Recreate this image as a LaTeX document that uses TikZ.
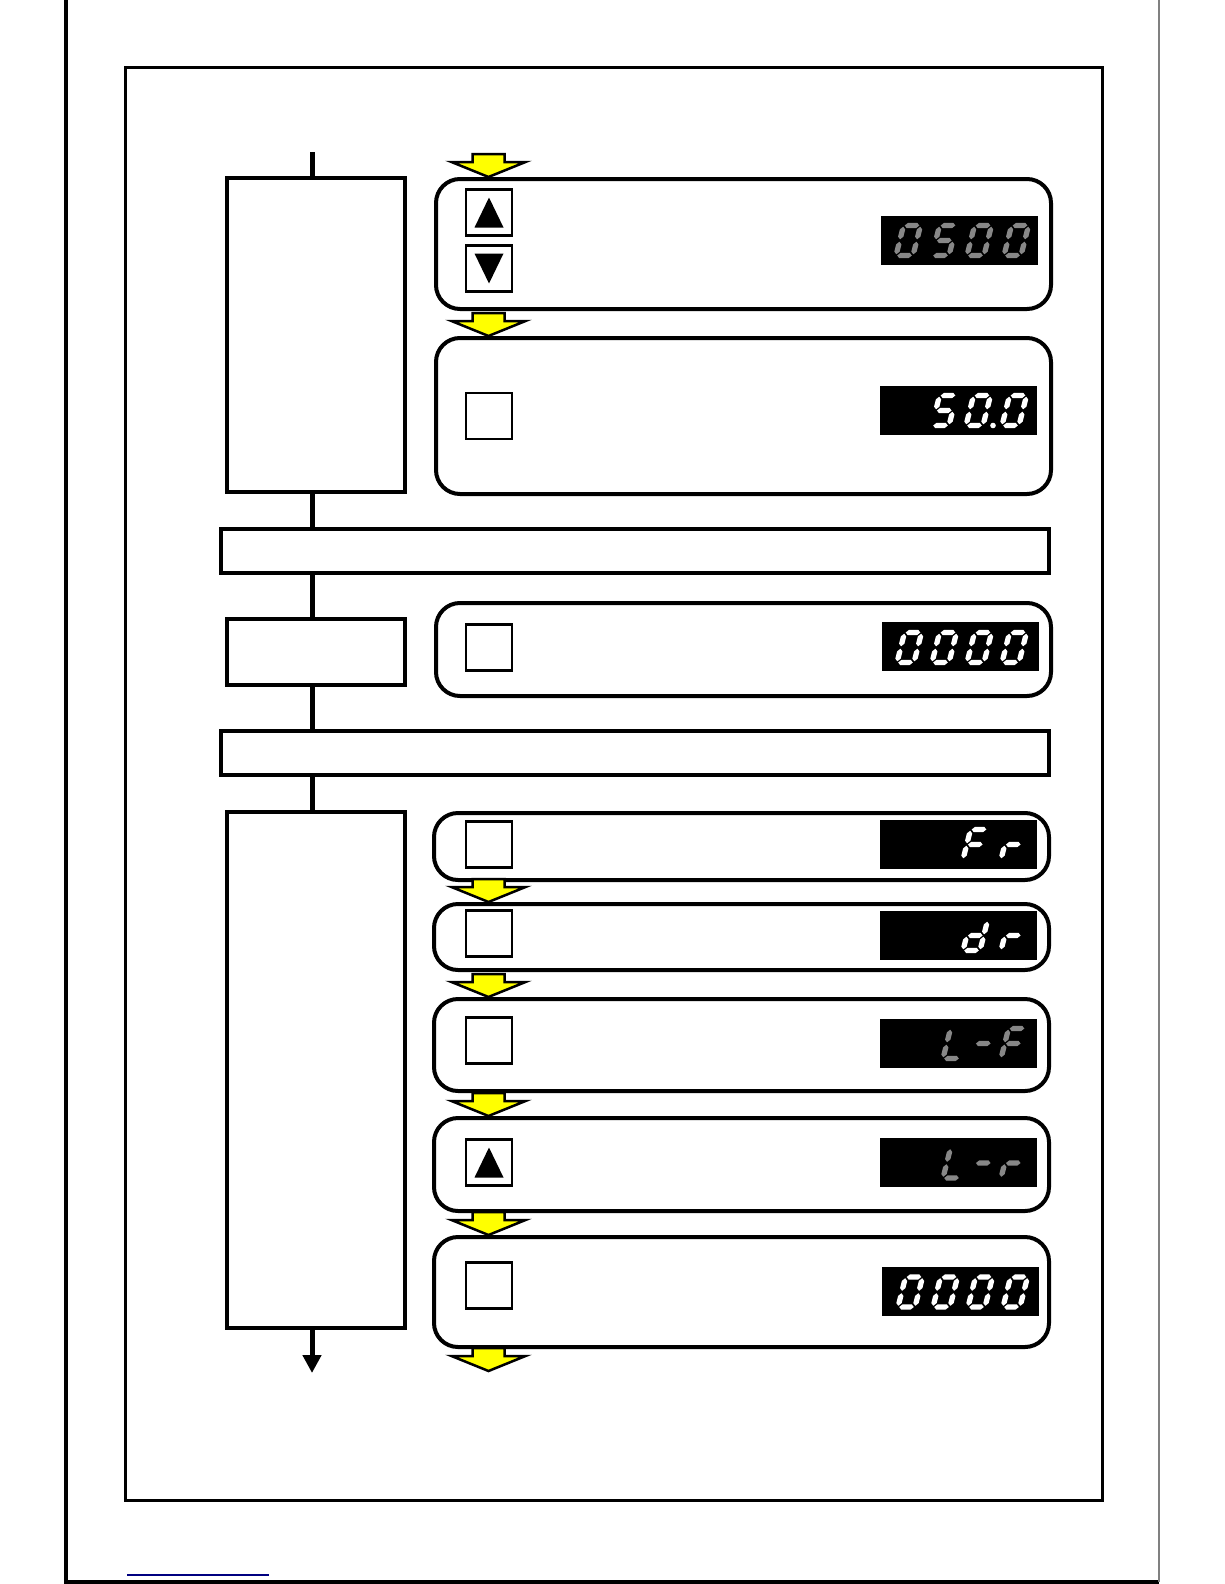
\documentclass[tikz,border=0pt]{standalone}
\usetikzlibrary{arrows.meta}
\definecolor{seggrey}{RGB}{135,135,135}
\definecolor{linkblue}{RGB}{0,0,128}
\definecolor{arrowyellow}{RGB}{255,255,0}
\def\segt{2.7}
% horizontal segment: x1, x2, y
\newcommand\hseg[3]{\fill (#1,#3) -- ++(\segt,-\segt) -- (#2-\segt,#3-\segt) -- (#2,#3) -- (#2-\segt,#3+\segt) -- (#1+\segt,#3+\segt) -- cycle;}
% vertical segment: x, y1 (top), y2 (bottom)
\newcommand\vseg[3]{\fill (#1,#2) -- ++(\segt,\segt) -- (#1+\segt,#3-\segt) -- (#1,#3) -- (#1-\segt,#3-\segt) -- (#1-\segt,#2+\segt) -- cycle;}
\newcommand\sevseg[4]{\begin{scope}[shift={(#1,#2)},xslant=0.25,fill=#3]\segparse#4\relax\end{scope}}
\def\segparse#1#2#3#4#5#6#7\relax{%
\ifnum#1=1 \hseg{1.2}{15.8}{-30}\fi
\ifnum#2=1 \vseg{17}{-28.8}{-16.2}\fi
\ifnum#3=1 \vseg{17}{-13.8}{-1.2}\fi
\ifnum#4=1 \hseg{1.2}{15.8}{0}\fi
\ifnum#5=1 \vseg{0}{-13.8}{-1.2}\fi
\ifnum#6=1 \vseg{0}{-28.8}{-16.2}\fi
\ifnum#7=1 \hseg{1.2}{15.8}{-15}\fi}
\newcommand\segdp[3]{\fill[#3] (#1,#2) circle (2.8);}
\newcommand\yarrow[1]{\draw[yarr] #1 -- ++(-37,-15) -- ++(21,0) -- ++(0,-8) -- ++(32,0) -- ++(0,8) -- ++(21,0) -- cycle;}
\newcommand\upbtn[1]{\fill (#1.center) ++(0,-15) -- ++(14.5,30) -- ++(-29,0) -- cycle;}
\newcommand\downbtn[1]{\fill (#1.center) ++(0,15) -- ++(14.5,-30) -- ++(-29,0) -- cycle;}
\begin{document}
\begin{tikzpicture}[x=1pt,y=-1pt,
  lbox/.style={draw,line width=3.5pt,fill=white,rectangle,inner sep=0pt,anchor=north west,minimum width=178pt},
  wbar/.style={draw,line width=3.5pt,fill=white,rectangle,inner sep=0pt,anchor=north west,minimum width=828pt,minimum height=44pt},
  rbox/.style={draw,line width=4pt,fill=white,rectangle,rounded corners=24pt,inner sep=0pt,anchor=north west,minimum width=615pt},
  btn/.style={draw,line width=2.5pt,fill=white,rectangle,minimum size=46pt,inner sep=0pt},
  disp/.style={fill=black,rectangle,inner sep=0pt,anchor=north west,minimum width=157pt,minimum height=49pt},
  yarr/.style={draw=black,fill=arrowyellow,line width=2.5pt,line join=miter},
  vline/.style={line width=5pt}]
\useasboundingbox (0,0) rectangle (1224,1584);
% page frames
\draw[line width=4pt] (66,0) -- (66,1582) -- (1159,1582);
\draw[line width=1.2pt,gray] (1159,0) -- (1159,1582);
\draw[line width=3pt] (125,68) rectangle (1102,1500);
\draw[line width=1.5pt,linkblue] (127,1575) -- (269,1575);
% left column
\node[lbox,minimum height=314pt] (L1) at (225,176) {};
\node[wbar] (B1) at (219,527) {};
\node[lbox,minimum height=66pt] (L2) at (225,617) {};
\node[wbar] (B2) at (219,729) {};
\node[lbox,minimum height=516pt] (L3) at (225,810) {};
\coordinate (vtop) at (312,152);
\coordinate (vend) at (312,1373);
\draw[vline] (vtop) -- (vtop |- L1.north);
\draw[vline] (vtop |- L1.south) -- (vtop |- B1.north);
\draw[vline] (vtop |- B1.south) -- (vtop |- L2.north);
\draw[vline] (vtop |- L2.south) -- (vtop |- B2.north);
\draw[vline] (vtop |- B2.south) -- (vtop |- L3.north);
\draw[vline,-{Triangle[width=18pt,length=18pt]}] (vtop |- L3.south) -- (vend);
% right column boxes
\node[rbox,minimum height=130pt] (R1) at (434,177) {};
\node[rbox,minimum height=156pt] (R2) at (434,336) {};
\node[rbox,minimum height=93pt] (R3) at (434,601) {};
\node[rbox,minimum height=67pt] (R4) at (432,811) {};
\node[rbox,minimum height=66pt] (R5) at (432,902) {};
\node[rbox,minimum height=92pt] (R6) at (432,997) {};
\node[rbox,minimum height=93pt] (R7) at (432,1116) {};
\node[rbox,minimum height=110pt] (R8) at (432,1235) {};
% buttons
\node[btn] (K1) at (489,212.5) {};
\node[btn] (K2) at (489,268.5) {};
\node[btn] (K3) at (489,416) {};
\node[btn] (K4) at (489,647.5) {};
\node[btn] (K5) at (489,844.5) {};
\node[btn] (K6) at (489,933.5) {};
\node[btn] (K7) at (489,1040.5) {};
\node[btn] (K8) at (489,1162.5) {};
\node[btn] (K9) at (489,1285.5) {};
\upbtn{K1}
\downbtn{K2}
\upbtn{K8}
% displays
\node[disp] (D1) at (881,216) {};
\node[disp] (D2) at (880,386) {};
\node[disp] (D3) at (882,622) {};
\node[disp] (D4) at (880,820) {};
\node[disp] (D5) at (880,911) {};
\node[disp] (D6) at (880,1019) {};
\node[disp] (D7) at (880,1138) {};
\node[disp] (D8) at (882,1267) {};
% digits
\sevseg{896}{255.5}{seggrey}{1111110}
\sevseg{932}{255.5}{seggrey}{1011011}
\sevseg{967}{255.5}{seggrey}{1111110}
\sevseg{1004}{255.5}{seggrey}{1111110}
\sevseg{932}{425.5}{white}{1011011}
\sevseg{966}{425.5}{white}{1111110}
\segdp{993}{425.5}{white}
\sevseg{1002}{425.5}{white}{1111110}
\sevseg{897}{662.5}{white}{1111110}
\sevseg{932}{662.5}{white}{1111110}
\sevseg{967}{662.5}{white}{1111110}
\sevseg{1002}{662.5}{white}{1111110}
\sevseg{963}{859.5}{white}{1000111}
\sevseg{1001}{859.5}{white}{0000101}
\sevseg{963}{950.5}{white}{0111101}
\sevseg{1001}{950.5}{white}{0000101}
\sevseg{943}{1058.5}{seggrey}{0001110}
\sevseg{971}{1058.5}{seggrey}{0000001}
\sevseg{1001}{1058.5}{seggrey}{1000111}
\sevseg{943}{1178}{seggrey}{0001110}
\sevseg{971}{1178}{seggrey}{0000001}
\sevseg{1001}{1178}{seggrey}{0000101}
\sevseg{898}{1307}{white}{1111110}
\sevseg{933}{1307}{white}{1111110}
\sevseg{968}{1307}{white}{1111110}
\sevseg{1003}{1307}{white}{1111110}
% yellow flow arrows
\coordinate (ax) at (488.5,0);
\yarrow{(ax |- R1.north)}
\yarrow{(ax |- R2.north)}
\yarrow{(ax |- R5.north)}
\yarrow{(ax |- R6.north)}
\yarrow{(ax |- R7.north)}
\yarrow{(ax |- R8.north)}
\coordinate (aend) at (488.5,1371);
\yarrow{(aend)}
\end{tikzpicture}
\end{document}
